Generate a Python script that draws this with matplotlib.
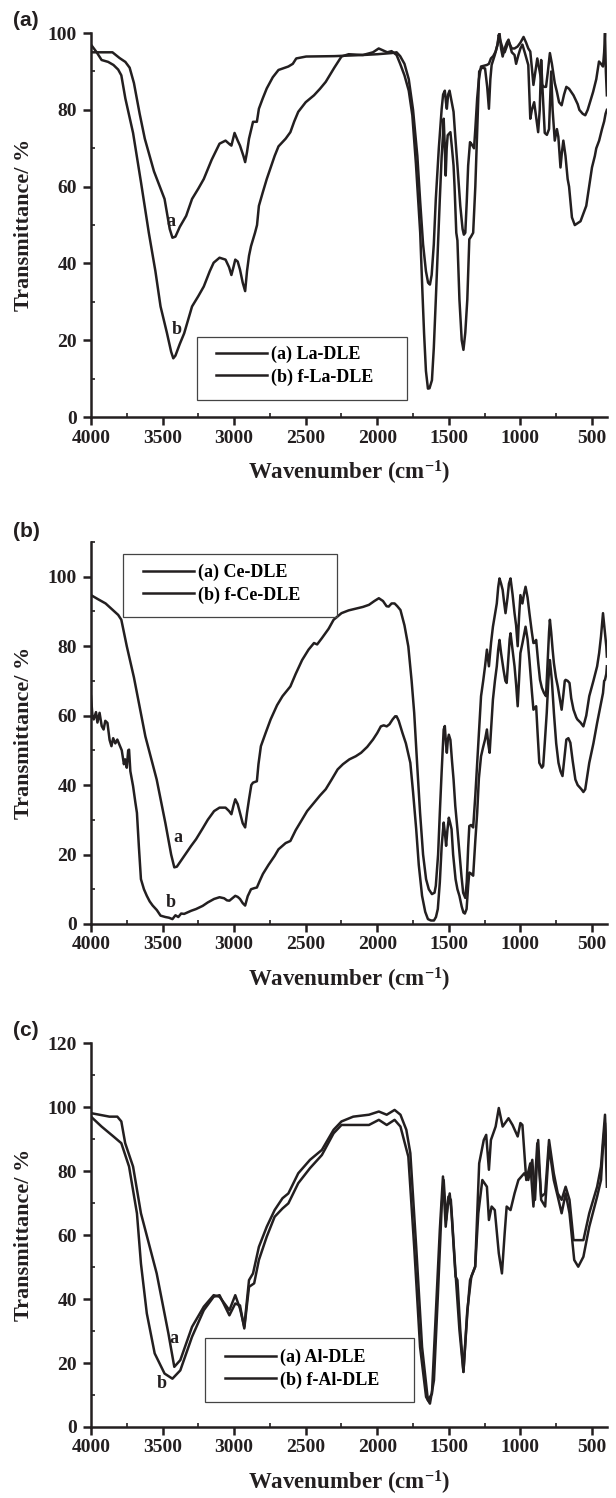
import matplotlib
matplotlib.use('Agg')
import matplotlib.pyplot as plt
from matplotlib.ticker import MultipleLocator
from matplotlib.patches import Rectangle

plt.rcParams['font.family'] = ['Liberation Serif', 'DejaVu Serif']
plt.rcParams['font.weight'] = 'bold'
plt.rcParams['mathtext.fontset'] = 'custom'
plt.rcParams['mathtext.rm'] = 'Liberation Serif:bold'
plt.rcParams['mathtext.bf'] = 'Liberation Serif:bold'
plt.rcParams['mathtext.it'] = 'Liberation Serif:bold'
plt.rcParams['mathtext.default'] = 'rm'

# ---------------- Panel (a): La-DLE / f-La-DLE ----------------
la_wn = [4000,3900,3850,3800,3760,3730,3700,3660,3624,3560,3486,3450,3431,3410,3380,3335,3294,3250,3212,3157,3102,3060,3030,3019,2997,2975,2959,2935,2923,2910,2896,2868,2841,2827,2800,2772,2730,2690,2621,2590,2566,2497,2300,2100,2000,1900,1865,1840,1810,1780,1750,1720,1700,1680,1660,1645,1632,1620,1605,1591,1570,1550,1540,1528,1520,1514,1505,1495,1485,1467,1455,1440,1420,1404,1395,1385,1375,1365,1352,1340,1324,1315,1302,1290,1275,1255,1234,1220,1206,1190,1173,1160,1151,1140,1124,1110,1083,1060,1041,1020,1000,978,960,945,931,920,909,895,882,865,849,835,821,808,794,780,760,745,730,712,695,679,660,629,600,588,565,547,530,510,492,470,451,437,423,415,409,403,396]
la_t  = [95,95,95,93.5,92.5,91,87,79,72.5,64,56.8,49,46.7,47,49.5,52.4,56.8,59.5,62,67,71.2,72,71,70.7,74,72,70.7,68,66.4,69,72.5,76.9,76.9,80.3,83,85.6,88.5,90.4,91.3,92,93.4,93.9,94,94.3,94.5,94.8,95,94,92,88,80,68,56,45,38,35,34.5,37,45,56.8,70,80.3,84,85,82,80.3,84,85,83,79.5,73,65.5,55,49,47.5,48,56,65.5,71.6,71,70,75,83,88,91.3,91.5,91.7,92,93.4,94,95.2,97,99.6,98,96,95,97.8,96,96,96.5,97.5,99,97.5,96,95.2,91,86.5,90,93.4,90,86.5,86,86,90,94.8,92,87,84.7,82,81.2,84,86,85.5,83.8,81.5,80,79,78.6,80,82.5,84.7,88,92.6,92,91.3,95,100,90,83.8]

fla_wn = [4000,3960,3926,3880,3843,3810,3788,3760,3730,3706,3650,3596,3550,3514,3470,3440,3425,3410,3380,3349,3294,3250,3212,3170,3143,3102,3060,3035,3019,3005,2992,2975,2959,2940,2923,2910,2896,2882,2854,2840,2827,2800,2772,2740,2717,2690,2662,2640,2607,2580,2552,2500,2442,2400,2360,2300,2250,2200,2100,2030,1990,1960,1930,1900,1865,1840,1810,1780,1755,1730,1700,1685,1673,1660,1646,1635,1618,1605,1591,1577,1563,1550,1540,1536,1530,1522,1515,1508,1489,1478,1467,1460,1448,1440,1426,1410,1398,1385,1371,1357,1345,1330,1315,1302,1288,1270,1247,1232,1220,1210,1201,1179,1160,1146,1135,1124,1110,1095,1083,1060,1041,1030,1014,1000,986,970,945,938,931,920,904,890,876,865,855,845,830,815,800,785,775,760,745,735,720,710,700,685,670,660,640,620,600,580,560,540,520,500,480,470,450,430,415,405,396]
fla_t  = [97,95,93,92.5,91.7,90.5,89,83,78,74,61,48,38,28.8,22,17,15.3,16,19,21.8,28.8,31.5,34,38,40.2,41.5,41,39,37,39,41,40.5,38.4,35,32.8,38,42,44.5,48,50,55,58.5,62,65.5,68,70.5,71.6,72.5,74.2,77,79.5,82,83.8,85.5,87.3,91,93.9,94.5,94.3,95,96,95.5,95,95.3,94.3,92,89,85,78.6,66,48,33,21.8,12,7.4,7.5,9.6,18,30.6,44,56.8,68,74,77.7,72,62.9,70,73.4,74.2,70,65.5,60,48,46,30.6,20,17.5,22,30.6,46.3,47,48,60,74.2,90,91,90.8,86,80.3,88,91.7,94.3,97,100,96,93.9,96,97.5,98.3,95,94.3,92,94.3,96,97,95,91.7,85,77.7,80,82,78,74.2,80,93,85,74,73.5,75,90,80,72,75,73,65,69,72,68,62,60,52,50,50.5,51,53,55,60,65,68,70,72,75,77,79,80]

# ---------------- Panel (b): Ce-DLE / f-Ce-DLE ----------------
ce_wn = [4000,3950,3898,3850,3810,3788,3750,3700,3679,3620,3541,3480,3440,3418,3400,3375,3349,3300,3266,3220,3184,3140,3102,3060,3035,3019,3005,2992,2975,2959,2940,2923,2910,2896,2880,2868,2841,2830,2813,2780,2745,2700,2662,2607,2570,2525,2480,2442,2420,2387,2340,2305,2250,2200,2140,2100,2058,2020,1989,1960,1935,1920,1900,1879,1860,1838,1810,1783,1760,1742,1720,1701,1680,1659,1640,1618,1600,1591,1575,1563,1550,1536,1528,1520,1514,1507,1500,1489,1478,1467,1455,1440,1425,1412,1400,1385,1375,1365,1357,1345,1330,1315,1302,1288,1275,1260,1247,1234,1228,1220,1205,1192,1178,1165,1155,1146,1135,1124,1115,1104,1090,1080,1069,1055,1041,1030,1019,1010,1000,986,975,964,950,937,920,909,900,890,875,863,850,835,821,810,800,794,785,775,766,752,739,725,712,700,690,684,670,657,645,629,610,602,580,560,540,519,490,464,450,437,430,423,415,409,400,396]
ce_t  = [94.7,93.5,92.3,90.5,89,87.6,80,71,66.5,54,41.6,29,20,16.3,16.5,18,19.6,22.5,24.4,27.5,30,32.5,33.5,33.5,32.5,31.6,34,35.9,34.5,32,29,27.8,32,35.9,40,40.7,41.1,46,51.2,55,58.9,63,65.6,68.4,72,76,79,80.9,80.5,82.3,85,87.6,89.5,90.3,90.9,91.3,91.9,93,93.8,93,91.5,91.4,92.3,92.3,91.5,90.4,86,79.9,70,60.8,45,32,20,12.9,10,8.6,9,11,20,32,44,56,57,52,49.3,53,54.5,53,47,41.6,34,27.3,20,13.9,9,7.5,12,22,28.2,28.5,27.8,37,46.4,57,65.6,70,74.2,79,77,74.2,81,85.6,89,92.3,97,99.5,98,96.2,93,89.5,94,98,99.5,95,89.5,86,80,88,94.7,92.3,95,97.1,94,89.5,84,80.9,81,81.8,75,70.3,68,66.5,65.6,75,84,87.6,84,79,75.1,71,68.4,65,61.7,66,70,70.3,70,69.4,65,61.7,59.5,58.9,58,56.9,60,65.6,70,74.2,78,82.8,86,89.5,86,83.7,80,77]

fce_wn = [4000,3990,3981,3965,3955,3940,3925,3912,3900,3885,3870,3857,3845,3830,3816,3800,3785,3770,3761,3750,3740,3734,3725,3706,3690,3679,3665,3651,3630,3610,3590,3569,3540,3514,3480,3455,3431,3410,3390,3370,3349,3300,3266,3220,3184,3140,3102,3070,3050,3033,3010,2992,2975,2959,2940,2923,2905,2882,2860,2841,2820,2799,2760,2717,2690,2662,2640,2607,2570,2525,2490,2442,2400,2360,2320,2277,2240,2195,2150,2113,2070,2030,2000,1975,1955,1934,1915,1893,1875,1865,1850,1824,1800,1769,1750,1728,1710,1687,1665,1646,1625,1604,1590,1577,1563,1550,1536,1527,1519,1510,1500,1490,1481,1470,1453,1440,1426,1410,1398,1388,1376,1365,1357,1345,1330,1315,1302,1290,1275,1260,1247,1234,1225,1215,1205,1192,1178,1165,1155,1146,1135,1118,1105,1096,1085,1075,1069,1055,1041,1030,1019,1010,1000,985,964,950,937,920,909,890,880,868,850,841,830,816,805,794,780,766,750,734,720,706,692,679,665,651,635,616,600,574,560,547,535,519,490,464,440,423,415,409,400,396]
fce_t  = [65.6,60,58.9,61,58,60.8,57,56,58.5,57.9,53,51.2,53.5,52,53.1,51.5,50,46,47.4,45,50,50.2,44,39.7,35,32,22,12.9,10,8.1,6.5,5.3,4,2.4,2,1.8,1.4,2.5,2,3,2.9,3.8,4.3,5.2,6.2,7.2,7.7,7.4,6.8,6.7,7.5,8.1,7.8,7.2,6,5.3,8,10,10.3,10.5,12.5,14.4,17,19.6,21.5,22.5,23.3,23.9,27,30.1,32.5,34.9,37,38.8,41.5,44.5,46,47.4,48.3,49.3,51,53.1,55,56.9,57.2,56.9,57.5,58.9,59.8,59.8,58.5,55,52,46.4,38,27.3,17,8.1,3.5,1.4,1,1,2,4.3,12,22.5,29.2,26,22.5,27,30.6,29,27.3,20,12.9,10,8.1,5,3.3,3,4.3,11,14.8,14.5,13.9,24,32,42,48.3,51,53.1,56,52,49.3,56,64.6,70,74.2,79,81.8,78,73.2,70,69.4,76,82,83.7,79,74.2,69,62.7,70,78,81,85.6,82,76,67,61.7,62.7,55,46.4,45,45.5,52,60.8,70,76,70,60.8,52,46.4,44,42.6,48,53.1,53.5,52.2,47,41.6,40,38.8,38,38.8,42,46.4,52,57.9,63,66.5,70,70.3,72,74.2]

# ---------------- Panel (c): Al-DLE / f-Al-DLE ----------------
al_wn = [4000,3871,3816,3788,3761,3706,3651,3541,3459,3418,3376,3294,3212,3143,3102,3033,2992,2959,2929,2896,2868,2827,2772,2717,2662,2621,2552,2470,2387,2305,2250,2168,2058,1989,1934,1879,1838,1797,1769,1728,1687,1646,1618,1591,1563,1541,1522,1508,1494,1481,1453,1440,1420,1398,1371,1352,1316,1288,1256,1239,1220,1206,1173,1151,1124,1083,1055,1019,1000,986,959,931,909,882,855,827,800,767,739,712,684,657,629,602,560,519,464,437,423,409,396]
al_t  = [98.1,97,97,95.5,88.7,81.4,66.8,48,29.2,18.8,20.9,31.3,37.6,41.2,40.7,36.5,41.2,37,31.3,45.9,48,56.3,62.6,67.8,71.5,73,79.3,83.5,86.6,92.9,95.5,97,97.6,98.6,97.6,99.1,97.6,92.9,85.6,56.3,25,8.3,10.4,35.5,61.6,78.3,62.6,68.9,73,66.8,47,45.9,30.3,17.2,35.5,45.9,50.1,82.4,89.7,91.3,80.4,89.7,93.9,99.7,93.9,96.5,94.4,90.8,95,94.4,77.2,82.4,68.9,88.7,72,73,89.7,79.3,73,71,75.1,71,58.4,58.4,58.4,66.8,75.1,81.4,89.7,97.6,81.4]

fal_wn = [4000,3926,3843,3788,3734,3679,3651,3610,3555,3486,3431,3376,3294,3212,3143,3102,3033,2992,2959,2929,2896,2860,2827,2772,2717,2662,2621,2552,2470,2387,2305,2250,2168,2058,1989,1934,1879,1838,1783,1742,1701,1659,1632,1604,1577,1550,1536,1519,1503,1486,1453,1426,1398,1371,1343,1316,1294,1266,1234,1220,1201,1179,1151,1129,1110,1096,1069,1041,1014,973,945,917,898,876,855,827,800,767,739,712,684,657,624,596,560,519,464,437,423,409,396]
fal_t  = [97,93.9,90.8,88.7,81.4,66.8,51.1,35.5,23,16.7,15.1,17.7,28.2,36.5,40.7,41.2,34.9,38.6,38,30.8,43.8,44.9,52.2,59.5,65.7,68.3,69.9,76.2,80.9,85,91.8,94.4,94.4,94.4,96,94.4,96,93.9,84.5,56.3,25,9.4,7.3,14.6,40.7,68.9,77.2,64.7,72,71,48,30.3,17.2,36.5,47,50.1,66.8,77.2,75.1,64.7,68.9,67.8,54.3,48,60.5,68.9,67.8,73,77.2,79.3,77.2,83.5,71,89.7,71,68.9,87.7,77.2,72,66.8,73,66.8,52.2,50.1,53.2,62.6,72,77.2,87.7,95,75.1]

panel_letters = ['(a)', '(b)', '(c)']
legend_labels = [['(a) La-DLE', '(b) f-La-DLE'],
                 ['(a) Ce-DLE', '(b) f-Ce-DLE'],
                 ['(a) Al-DLE', '(b) f-Al-DLE']]
series = [((la_wn, la_t), (fla_wn, fla_t)),
          ((ce_wn, ce_t), (fce_wn, fce_t)),
          ((al_wn, al_t), (fal_wn, fal_t))]
y_max = [100, 110, 120]
y_tick_max = [100, 100, 120]
curve_marks = [((3445, 51), (3404, 22.7)),
               ((3390, 24.9), (3445, 6.2)),
               ((3418, 27.7), (3508, 13.6))]

# ---------------- layout (not data) ----------------
ax_rects = [(0.1477, 0.7216, 0.8377, 0.2563),
            (0.1477, 0.3832, 0.8377, 0.2550),
            (0.1477, 0.0474, 0.8377, 0.2563)]
letter_pos = [(13/616, 1 - 11/1498), (13/616, 1 - 522/1498), (13/616, 1 - 1021/1498)]
leg_anchor = [(0.2422, 0.186), (0.1008, 0.943), (0.2597, 0.204)]
leg_box = [(0.2054, 0.0443, 0.407, 0.164),
           (0.062, 0.8037, 0.4147, 0.1649),
           (0.2209, 0.0651, 0.405, 0.1667)]

INK = '#231f20'
fig = plt.figure(figsize=(6.16, 14.98), dpi=100)

for i in range(3):
    ax = fig.add_axes(ax_rects[i])
    (wa, ta), (wb, tb) = series[i]
    la, = ax.plot(wa, ta, color=INK, lw=1.8, label=legend_labels[i][0])
    lb, = ax.plot(wb, tb, color=INK, lw=1.8, label=legend_labels[i][1])
    ax.set_xlim(4000, 395)
    ax.set_ylim(0, y_max[i])
    ax.set_xticks(range(4000, 499, -500))
    ax.set_yticks(range(0, y_tick_max[i] + 1, 20))
    ax.xaxis.set_minor_locator(MultipleLocator(250))
    ax.yaxis.set_minor_locator(MultipleLocator(10))
    for s in ['top', 'right']:
        ax.spines[s].set_visible(False)
    for s in ['left', 'bottom']:
        ax.spines[s].set_linewidth(1.8)
        ax.spines[s].set_color(INK)
    ax.tick_params(which='major', direction='out', length=6, width=1.8,
                   labelsize=14, colors=INK, pad=3)
    ax.tick_params(axis='y', which='major', pad=4)
    ax.tick_params(which='minor', direction='in', length=3, width=1.2, colors=INK)
    for lab in ax.get_xticklabels() + ax.get_yticklabels():
        lab.set_fontweight('bold')
    ax.set_xlabel('Wavenumber (cm$^{-1}$)', fontsize=16.5, fontweight='bold', color=INK)
    ax.set_ylabel('Transmittance/ %', fontsize=16, fontweight='bold', color=INK)
    ax.xaxis.set_label_coords(0.5, -0.11)
    ax.yaxis.set_label_coords(-0.11, 0.5)

    (xa, ya), (xb, yb) = curve_marks[i]
    ax.text(xa, ya, 'a', fontsize=13, fontweight='bold', color=INK, ha='center', va='center')
    ax.text(xb, yb, 'b', fontsize=13, fontweight='bold', color=INK, ha='center', va='center')

    bx, by, bw, bh = leg_box[i]
    ax.add_patch(Rectangle((bx, by), bw, bh, transform=ax.transAxes, fill=False,
                           edgecolor='#444444', lw=0.9, zorder=5))
    ax.legend(handles=[la, lb], loc='upper left', bbox_to_anchor=leg_anchor[i],
              frameon=False, borderpad=0, borderaxespad=0, handlelength=2.8,
              handletextpad=0.25, labelspacing=0.3,
              prop={'family': 'Liberation Serif', 'weight': 'bold', 'size': 13})

    fig.text(letter_pos[i][0], letter_pos[i][1], panel_letters[i], ha='left', va='top',
             family='Liberation Sans', fontweight='bold', fontsize=15, color=INK)

fig.savefig('out.png', dpi=100)
